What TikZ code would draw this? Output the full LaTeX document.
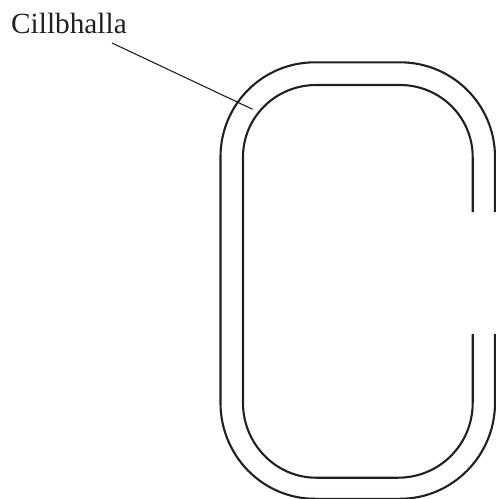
\documentclass[tikz,border=0pt]{standalone}
\usepackage{fontspec}
\setmainfont{Liberation Serif}
\definecolor{ink}{HTML}{231F20}
\tikzset{
  wall/.style={draw=ink,line width=2.1pt},
  leader/.style={draw=ink,line width=1.1pt},
  labeltext/.style={inner sep=0pt,text=ink,font=\fontsize{29.3}{29.3}\selectfont,anchor=base west}
}
\begin{document}
\begin{tikzpicture}[x=1pt,y=-1pt]
\useasboundingbox (0,0) rectangle (496,499);
\node[labeltext] (label) at (11,33) {Cillbhalla};
\coordinate (ls) at (112,43);
\coordinate (le) at (252.7,109.3);
\draw[leader] (ls) -- (le);
% outer wall
\draw[wall] (495,212) -- (495,157)
  .. controls (495,104.5) and (452.5,62.3) .. (400,62.3)
  -- (315,62.3)
  .. controls (262.5,62.3) and (220.5,104.5) .. (220.5,157)
  -- (220.5,403)
  .. controls (220.5,455.5) and (262.5,498.8) .. (315,498.8)
  -- (400,498.8)
  .. controls (452.5,498.8) and (495,455.5) .. (495,403)
  -- (495,334);
% inner wall
\draw[wall] (472.7,212) -- (472.7,157)
  .. controls (472.7,117) and (440,85) .. (400,85)
  -- (316,85)
  .. controls (276,85) and (243,117) .. (243,157)
  -- (243,403)
  .. controls (243,444) and (276,477.7) .. (316,477.7)
  -- (398,477.7)
  .. controls (440,477.7) and (472.7,444) .. (472.7,403)
  -- (472.7,334);
\end{tikzpicture}
\end{document}
